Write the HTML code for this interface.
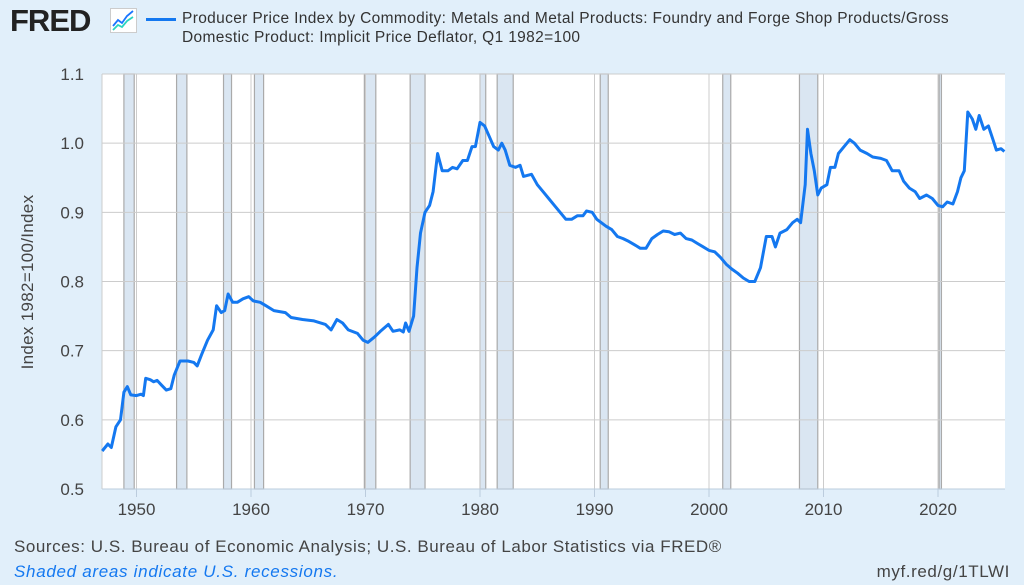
<!DOCTYPE html>
<html><head><meta charset="utf-8"><style>
body{margin:0;width:1024px;height:585px;background:#e1effa;font-family:"Liberation Sans",sans-serif;overflow:hidden;position:relative}
.t{position:absolute;white-space:nowrap}
</style></head><body>
<div class="t" style="left:10px;top:3px;font-size:31px;font-weight:bold;color:#222;letter-spacing:-1px">FRED</div>
<svg class="t" style="left:110px;top:8px" width="27" height="25"><rect x="0.5" y="0.5" width="26" height="24" fill="#fff" stroke="#ccc"/><polyline points="3,18 8,12 12,15 17,8 23,3" fill="none" stroke="#1a75ff" stroke-width="1.8"/><polyline points="3,22 8,17 12,19 17,13 23,9" fill="none" stroke="#2ad4c0" stroke-width="1.8"/></svg>
<div class="t" style="left:146px;top:18px;width:30px;height:3px;background:#1478f0"></div>
<div class="t" style="left:182px;top:9px;font-size:15.5px;line-height:19px;color:#333;letter-spacing:0.35px">Producer Price Index by Commodity: Metals and Metal Products: Foundry and Forge Shop Products/Gross<br>Domestic Product: Implicit Price Deflator, Q1 1982=100</div>
<div class="t" style="left:0;top:282px;width:0;height:0"><div style="position:absolute;transform:translate(-50%,-50%) rotate(-90deg);left:28px;top:0;font-size:17px;color:#444;white-space:nowrap;letter-spacing:0.3px">Index 1982=100/Index</div></div>
<svg class="t" style="left:0;top:0" width="1024" height="585" id="s"></svg>
<div class="t" style="left:14px;top:537px;font-size:17px;color:#444;letter-spacing:0.55px">Sources: U.S. Bureau of Economic Analysis; U.S. Bureau of Labor Statistics via FRED®</div>
<div class="t" style="left:14px;top:562px;font-size:17px;color:#1478f0;font-style:italic;letter-spacing:0.7px">Shaded areas indicate U.S. recessions.</div>
<div class="t" style="right:14px;top:562px;font-size:17px;color:#444;letter-spacing:0.6px">myf.red/g/1TLWI</div>
<script>
var L=102,R=1005,T=74,B=489;
function X(y){return 136.5+(y-1950)*11.45}
function Y(v){return T+(1.1-v)*(B-T)/0.6}
var h='<rect x="'+L+'" y="'+T+'" width="'+(R-L)+'" height="'+(B-T)+'" fill="#fff"/>';
var rec=[[1948.9,1949.8],[1953.5,1954.4],[1957.6,1958.3],[1960.3,1961.1],[1969.9,1970.9],[1973.9,1975.2],[1980.0,1980.5],[1981.5,1982.9],[1990.5,1991.2],[2001.2,2001.9],[2007.9,2009.5],[2020.1,2020.3]];
rec.forEach(function(r){h+='<rect x="'+X(r[0])+'" y="'+T+'" width="'+(X(r[1])-X(r[0]))+'" height="'+(B-T)+'" fill="#dae6f2" stroke="#aaa" stroke-width="1.2"/>';});
for(var v=0.5;v<1.15;v+=0.1){var y=Y(v);h+='<line x1="'+L+'" x2="'+R+'" y1="'+y+'" y2="'+y+'" stroke="#ccc"/>';h+='<text x="84" y="'+(y+6)+'" font-size="17" fill="#444" text-anchor="end">'+v.toFixed(1)+'</text>';}
for(var yr=1950;yr<=2020;yr+=10){var x=X(yr);h+='<line x1="'+x+'" x2="'+x+'" y1="'+T+'" y2="'+B+'" stroke="#ccc"/><line x1="'+x+'" x2="'+x+'" y1="'+B+'" y2="'+(B+8)+'" stroke="#bcd"/>';h+='<text x="'+x+'" y="'+(B+26)+'" font-size="17" fill="#444" text-anchor="middle">'+yr+'</text>';}
h+='<line x1="'+L+'" x2="'+R+'" y1="'+B+'" y2="'+B+'" stroke="#bcd"/><line x1="'+L+'" x2="'+L+'" y1="'+T+'" y2="'+B+'" stroke="#ccc"/>';
var d=[1947.0,.555,1947.5,.565,1947.8,.56,1948.2,.59,1948.6,.60,1948.9,.64,1949.2,.648,1949.5,.636,1950.0,.635,1950.4,.637,1950.6,.635,1950.8,.66,1951.2,.658,1951.5,.655,1951.8,.657,1952.2,.65,1952.6,.643,1953.0,.645,1953.3,.665,1953.8,.685,1954.5,.685,1955.0,.683,1955.3,.678,1955.7,.695,1956.2,.715,1956.7,.73,1957.0,.765,1957.4,.755,1957.7,.758,1958.0,.782,1958.4,.77,1958.8,.77,1959.3,.775,1959.8,.778,1960.2,.772,1960.8,.77,1961.3,.765,1962,.758,1963,.755,1963.5,.748,1964.5,.745,1965.5,.743,1966.5,.738,1967,.73,1967.5,.745,1968,.74,1968.5,.73,1969.3,.725,1969.8,.715,1970.2,.712,1970.8,.72,1971.3,.728,1972,.738,1972.4,.728,1973,.73,1973.3,.727,1973.5,.74,1973.8,.728,1974.2,.75,1974.5,.82,1974.8,.87,1975.2,.9,1975.6,.91,1975.9,.93,1976.3,.985,1976.7,.96,1977.2,.96,1977.6,.965,1978.0,.963,1978.5,.975,1978.9,.975,1979.3,.995,1979.6,.995,1980.0,1.03,1980.4,1.025,1980.8,1.01,1981.2,.995,1981.6,.99,1981.9,1.0,1982.2,.99,1982.6,.968,1983.1,.965,1983.5,.968,1983.8,.952,1984.5,.955,1985,.94,1985.5,.93,1986,.92,1986.5,.91,1987,.9,1987.5,.89,1988,.89,1988.5,.895,1989,.895,1989.3,.902,1989.8,.9,1990.2,.89,1991,.88,1991.5,.875,1992,.865,1992.5,.862,1993,.858,1993.5,.853,1994,.848,1994.5,.848,1995,.862,1995.5,.868,1996,.873,1996.5,.872,1997,.868,1997.5,.87,1998,.862,1998.5,.86,1999,.855,1999.5,.85,2000,.845,2000.5,.843,2001,.835,2001.5,.825,2002,.818,2002.5,.812,2003,.805,2003.5,.8,2004,.8,2004.5,.82,2005,.865,2005.5,.865,2005.8,.85,2006.2,.87,2006.8,.875,2007.3,.885,2007.7,.89,2008.0,.885,2008.4,.94,2008.6,1.02,2008.9,.985,2009.2,.96,2009.5,.925,2009.8,.935,2010.3,.94,2010.6,.965,2011,.965,2011.3,.985,2011.8,.995,2012.3,1.005,2012.7,1.0,2013.2,.99,2013.8,.985,2014.3,.98,2015,.978,2015.5,.975,2016,.96,2016.6,.96,2017,.945,2017.5,.935,2018,.93,2018.4,.92,2019,.925,2019.5,.92,2020,.91,2020.4,.908,2020.8,.915,2021.3,.912,2021.7,.93,2022.0,.95,2022.3,.96,2022.6,1.045,2023.0,1.035,2023.3,1.02,2023.6,1.04,2024.0,1.02,2024.4,1.025,2024.8,1.005,2025.1,.99,2025.5,.992,2025.8,.988];
var p=[];for(var i=0;i<d.length;i+=2)p.push(X(d[i]).toFixed(1)+','+Y(d[i+1]).toFixed(1));
h+='<polyline points="'+p.join(' ')+'" fill="none" stroke="#1478f0" stroke-width="3" stroke-linejoin="round"/>';
document.getElementById('s').innerHTML=h;
</script>
</body></html>
